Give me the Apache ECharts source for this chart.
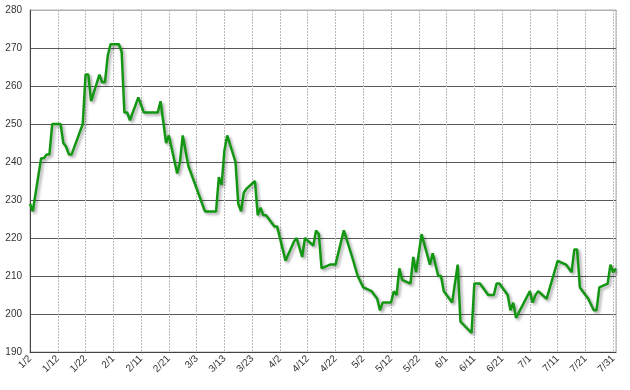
<!DOCTYPE html>
<html>
<head>
<meta charset="utf-8">
<script src="https://cdn.jsdelivr.net/npm/echarts@6/dist/echarts.min.js"></script>
<style>html,body{margin:0;padding:0;background:#fff}#c{width:630px;height:390px}</style>
</head>
<body>
<div id="c"></div>
<script>
// Dates (M/D) of each observation
const dates = ["1/2","1/3","1/6","1/7","1/8","1/9","1/10","1/13","1/14","1/15","1/16","1/17","1/21","1/22","1/23","1/24","1/27","1/28","1/29","1/30","1/31","2/3","2/4","2/5","2/6","2/7","2/10","2/12","2/17","2/18","2/20","2/21","2/24","2/25","2/26","2/28","3/6","3/10","3/11","3/12","3/13","3/14","3/17","3/18","3/19","3/20","3/21","3/24","3/25","3/26","3/27","3/28","3/31","4/1","4/4","4/7","4/8","4/10","4/11","4/14","4/15","4/16","4/17","4/20","4/22","4/25","4/28","4/30","5/2","5/5","5/7","5/8","5/9","5/12","5/13","5/14","5/15","5/16","5/19","5/20","5/21","5/23","5/26","5/27","5/29","5/30","5/31","6/3","6/5","6/6","6/10","6/11","6/13","6/16","6/18","6/19","6/20","6/23","6/24","6/25","6/26","7/1","7/2","7/3","7/4","7/7","7/11","7/14","7/16","7/17","7/18","7/19","7/22","7/24","7/25","7/26","7/29","7/30","7/31","8/1"];
// Values
const values = [229,227,241,241,242,242,250,250,245,244,242,242,250,263,263,256,263,261,261,268,271,271,269,253,253,251,257,253,253,256,245,247,237,240,247,239,227,227,236,234,243,247,240,229,227,232,233,235,226,228,226,226,223,223,214,219,220,215,220,218,222,221,212,213,213,222,215,210,207,206,204,201,203,203,206,205,212,209,208,215,211,221,213,216,210,210,206,203,213,198,195,208,208,205,205,208,208,205,201,203,199,206,203,205,206,204,214,213,211,217,217,207,204,201,201,207,208,213,211,212];
// X tick labels (every 10 days from 1/2)
const xTickLabels = ["1/2","1/12","1/22","2/1","2/11","2/21","3/3","3/13","3/23","4/2","4/12","4/22","5/2","5/12","5/22","6/1","6/11","6/21","7/1","7/11","7/21","7/31"];
const yMin = 190, yMax = 280, yStep = 10;

function dayOffset(md) {
  const [m, d] = md.split('/').map(Number);
  return Math.round((Date.UTC(2021, m - 1, d) - Date.UTC(2021, 0, 2)) / 86400000);
}
const seriesData = dates.map((d, i) => [dayOffset(d), values[i]]);
const xMax = dayOffset(dates[dates.length - 1]);

const hColors = [];
for (let v = yMin; v <= yMax; v += yStep) hColors.push(v === yMax ? '#b0b0b0' : '#5a5a5a');

const chart = echarts.init(document.getElementById('c'), null, {renderer: 'canvas'});
chart.setOption({
  animation: false,
  backgroundColor: '#fff',
  grid: {left: 30, right: 14, top: 10, bottom: 38, show: true, borderColor: '#b0b0b0', borderWidth: 1},
  xAxis: {
    type: 'value', min: 0, max: xMax, interval: 10,
    axisLine: {show: true, lineStyle: {color: '#444', width: 1}},
    axisTick: {show: false},
    axisLabel: {
      rotate: 45, margin: 5, color: '#333', fontSize: 10, fontFamily: 'Liberation Sans, Arial, sans-serif',
      showMaxLabel: true,
      formatter: v => (v % 10 === 0 ? (xTickLabels[v / 10] || '') : '')
    },
    splitLine: {show: true, lineStyle: {color: '#bbb', type: [2, 1], width: 1}}
  },
  yAxis: {
    type: 'value', min: yMin, max: yMax, interval: yStep,
    axisLine: {show: true, lineStyle: {color: '#444', width: 1}},
    axisTick: {show: false},
    axisLabel: {color: '#333', fontSize: 10, margin: 8, fontFamily: 'Liberation Sans, Arial, sans-serif'},
    splitLine: {show: true, lineStyle: {color: hColors, width: 1}}
  },
  series: [{
    type: 'line',
    data: seriesData,
    symbol: 'none',
    lineStyle: {color: '#139713', width: 2.5, shadowColor: 'rgba(0,0,0,0.35)', shadowBlur: 3, shadowOffsetX: 2, shadowOffsetY: 2},
    z: 5
  }]
});
</script>
</body>
</html>
